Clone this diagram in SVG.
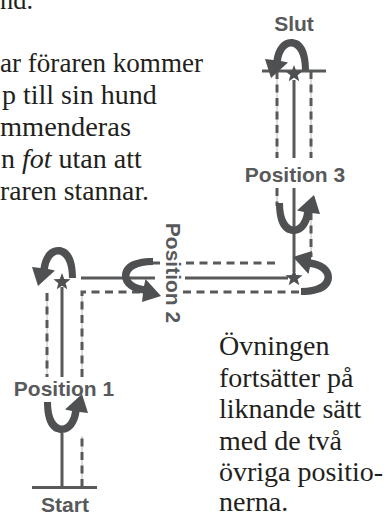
<svg xmlns="http://www.w3.org/2000/svg" width="392" height="516" viewBox="0 0 392 516">
<style>
.body{font-family:"Liberation Serif","Times New Roman",serif;font-size:28px;fill:#231f20}
.lbl{font-family:"Liberation Sans",Arial,sans-serif;font-weight:bold;font-size:21px;fill:#58595b;text-anchor:middle}
.solid{stroke:#58595b;stroke-width:3;fill:none}
.dash{stroke:#58595b;stroke-width:3;stroke-dasharray:8 5.5;fill:none}
.thin{stroke:#b8b8b8;stroke-width:1;fill:none}
.shape{fill:#4f5052}
</style>
<defs>
<path id="turn" d="M18,-8 C18,-31 10,-39 0,-39 C-10,-39 -16,-29 -17.5,-18 L-26,-19 L-20,0 L-3,-15.5 L-10,-17 C-9,-25 -5,-31.5 0,-31.5 C5.5,-31.5 11,-24 11,-8 Z"/>
<path id="star" d="M0,-9 L2.25,-3.1 L8.56,-2.78 L3.63,1.18 L5.29,7.28 L0,3.8 L-5.29,7.28 L-3.63,1.18 L-8.56,-2.78 L-2.25,-3.1 Z"/>
</defs>
<rect width="392" height="516" fill="#fff"/>

<g id="text-left" class="body">
<text x="0" y="9" textLength="33" lengthAdjust="spacingAndGlyphs">nd.</text>
<text x="0" y="72" textLength="203" lengthAdjust="spacingAndGlyphs">ar föraren kommer</text>
<text x="2" y="104">p till sin hund</text>
<text x="0" y="136" textLength="131" lengthAdjust="spacingAndGlyphs">mmenderas</text>
<text x="1" y="168">n <tspan font-style="italic">fot</tspan> utan att</text>
<text x="0" y="199.5" textLength="149" lengthAdjust="spacingAndGlyphs">raren stannar.</text>
</g>

<g id="text-right" class="body">
<text x="219" y="355">Övningen</text>
<text x="219" y="386.5">fortsätter på</text>
<text x="219" y="418">liknande sätt</text>
<text x="219" y="449.5">med de två</text>
<text x="219" y="480.5">övriga positio-</text>
<text x="219" y="511">nerna.</text>
</g>

<g id="connectors">
<g class="thin">
<path d="M82,487 V436"/>
<path d="M47,293 V377"/>
<path d="M82,377 V292"/>
<path d="M277,188 V206"/>
<path d="M311,212 V257"/>
<path d="M277,71 V158"/>
<path d="M311,71 V158"/>
</g>
<g class="solid">
<path d="M62,487.5 V433"/>
<path d="M62,287 V377"/>
<path d="M81,278 H155"/>
<path d="M185,278 H288"/>
<path d="M294,188 V272"/>
<path d="M294,80 V158"/>
</g>
<g class="dash">
<path d="M82,487 V436"/>
<path d="M47,293 V377"/>
<path d="M82,377 V292 H146"/>
<path d="M183,292 H309"/>
<path d="M152,263 H163"/>
<path d="M186,263 H279"/>
<path d="M277,188 V206"/>
<path d="M311,212 V257"/>
<path d="M277,71 V158"/>
<path d="M311,71 V158"/>
</g>
</g>

<g id="start">
<path class="solid" d="M32,487.5 H97"/>
<use href="#turn" class="shape" transform="translate(62,394) rotate(180)"/>
<text class="lbl" x="65" y="512">Start</text>
</g>

<g id="position-1">
<use href="#star" class="shape" transform="translate(62,282)"/>
<use href="#turn" class="shape" transform="translate(58,286)"/>
<text class="lbl" x="64" y="396">Position 1</text>
</g>

<g id="position-2">
<use href="#turn" class="shape" transform="translate(161,276) rotate(-90)"/>
<use href="#star" class="shape" transform="translate(294,278)"/>
<use href="#turn" class="shape" transform="translate(293,277) rotate(90)"/>
<text class="lbl" transform="translate(166,273) rotate(90)">Position 2</text>
</g>

<g id="position-3">
<use href="#turn" class="shape" transform="translate(294,195) rotate(180)"/>
<text class="lbl" x="295" y="182">Position 3</text>
</g>

<g id="slut">
<path class="solid" d="M262,71 H326"/>
<use href="#star" class="shape" transform="translate(294,74)"/>
<use href="#turn" class="shape" transform="translate(291,78)"/>
<text class="lbl" x="294" y="31">Slut</text>
</g>
</svg>
